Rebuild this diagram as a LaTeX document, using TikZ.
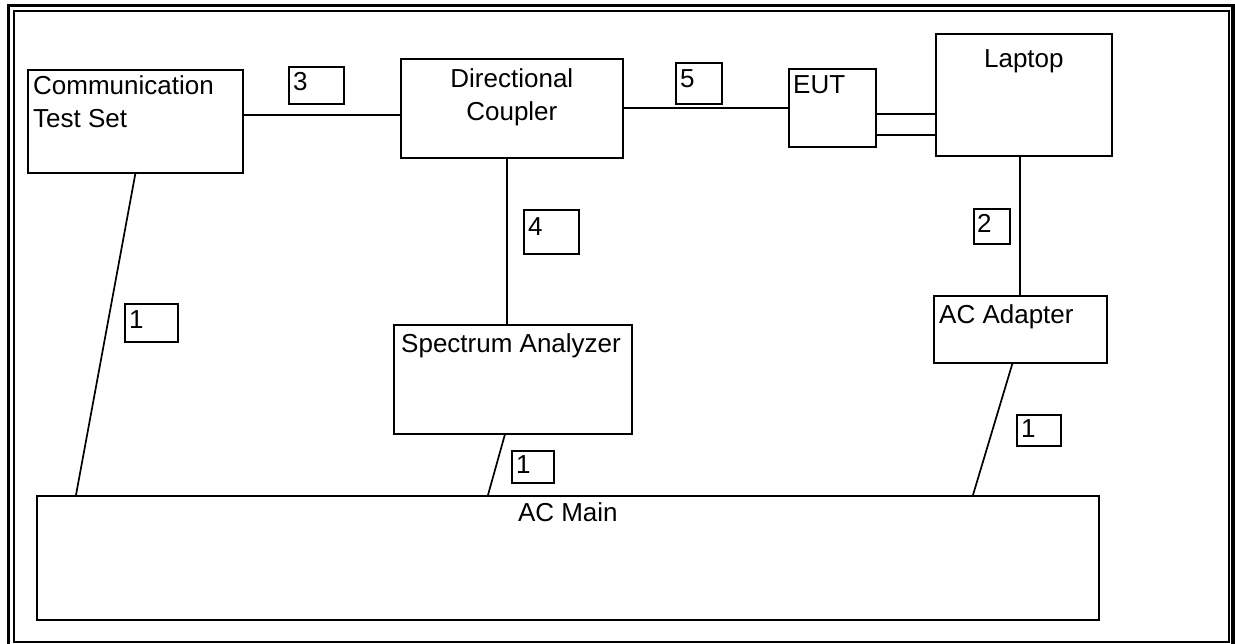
\documentclass[tikz,border=0pt]{standalone}
\usepackage{fontspec}
\setmainfont{Liberation Sans}
\usetikzlibrary{positioning,calc}

\begin{document}
\begin{tikzpicture}[x=1pt, y=-1pt,
  font=\fontsize{26}{33}\selectfont,
  unit/.style={draw, line width=1.7pt, anchor=north west, inner sep=0pt},
  tag/.style={draw, line width=1.7pt, anchor=north west, inner sep=0pt},
  nw/.style={anchor=north west, align=left, inner xsep=6pt, inner ysep=6pt},
  ctr/.style={anchor=north, align=center, inner ysep=10pt},
  wire/.style={line width=1.7pt},
]
\useasboundingbox (0,0) rectangle (1235,644);

% Frame
\draw[line width=3.2pt] (8.5,5.5) rectangle (1233,650);
\draw[line width=2pt] (14,11) rectangle (1229,642);

% Top row
\node[unit, minimum width=215pt, minimum height=103pt,
      label={[nw]north west:{Communication\\Test Set}}] (cts) at (27,69) {};
\node[tag, minimum width=55pt, minimum height=37pt,
      label={[nw, inner xsep=5pt]north west:3}] (tag3) at (288,66) {};
\node[unit, minimum width=222pt, minimum height=99pt,
      label={[ctr]north:{Directional\\Coupler}}] (dc) at (400,58) {};
\node[tag, minimum width=46pt, minimum height=41pt,
      label={[nw, inner xsep=5pt, inner ysep=7pt]north west:5}] (tag5) at (675,62) {};
\node[unit, minimum width=87pt, minimum height=78pt,
      label={[nw, inner xsep=5pt, inner ysep=7pt]north west:EUT}] (eut) at (788,68) {};
\node[unit, minimum width=176pt, minimum height=122pt,
      label={[ctr, inner ysep=16pt]north:Laptop}] (laptop) at (935,33) {};

% Middle row
\node[tag, minimum width=53pt, minimum height=38pt,
      label={[nw, inner xsep=5pt, inner ysep=7pt]north west:1}] (tag1a) at (124,303) {};
\node[tag, minimum width=55pt, minimum height=44pt,
      label={[nw, inner xsep=5pt, inner ysep=8pt]north west:4}] (tag4) at (523,209) {};
\node[tag, minimum width=36pt, minimum height=35pt,
      label={[nw, inner xsep=4pt, inner ysep=6pt]north west:2}] (tag2) at (973,208) {};
\node[unit, minimum width=173pt, minimum height=67pt,
      label={[nw, inner ysep=9pt]north west:AC Adapter}] (acad) at (933,295) {};
\node[unit, minimum width=238pt, minimum height=109pt,
      label={[nw, inner xsep=8pt, inner ysep=9pt]north west:Spectrum Analyzer}] (sa) at (393,324) {};
\node[tag, minimum width=44pt, minimum height=31pt,
      label={[nw, inner xsep=5pt, inner ysep=5pt]north west:1}] (tag1c) at (1016,414) {};
\node[tag, minimum width=42pt, minimum height=32pt,
      label={[nw, inner xsep=5pt, inner ysep=5pt]north west:1}] (tag1b) at (511,450) {};

% Bottom
\node[unit, minimum width=1062pt, minimum height=124pt,
      label={[ctr, inner ysep=7pt]north:AC Main}] (main) at (36,495) {};

% Connections
\draw[wire] ([yshift=6pt]cts.east) -- ([yshift=6pt]cts.east -| dc.west);
\draw[wire] (dc.east) -- (dc.east -| eut.west);
\draw[wire] ([yshift=-6pt]eut.east) -- ([yshift=-6pt]eut.east -| laptop.west);
\draw[wire] ([yshift=-27pt]eut.east) -- ([yshift=-27pt]eut.east -| laptop.west);
\draw[wire] ([xshift=-5pt]dc.south) -- ([xshift=-5pt]dc.south |- sa.north);
\draw[wire] ([xshift=-4pt]laptop.south) -- ([xshift=-4pt]laptop.south |- acad.north);
\draw[wire] (cts.south) -- ([xshift=40pt]main.north west);
\draw[wire] ([xshift=-8pt]sa.south) -- ([xshift=452pt]main.north west);
\draw[wire] ([xshift=-8pt]acad.south) -- ([xshift=937pt]main.north west);

\end{tikzpicture}
\end{document}
